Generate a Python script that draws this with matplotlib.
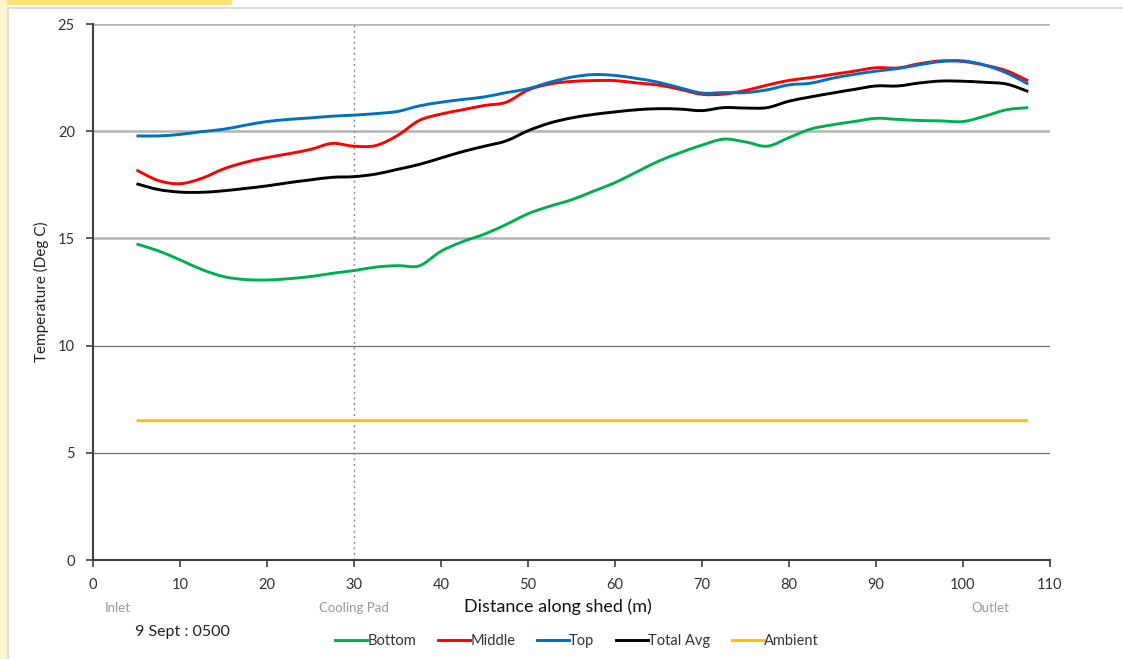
import matplotlib
matplotlib.use("Agg")
import matplotlib.pyplot as plt
from matplotlib.lines import Line2D
from matplotlib.patches import Rectangle, PathPatch
from matplotlib.path import Path

plt.rcParams["font.family"] = ["Lato", "DejaVu Sans"]

# distance along shed (m)
distance = [5, 7.5, 10, 12.5, 15, 17.5, 20, 22.5, 25, 27.5, 30, 32.5, 35, 37.5,
            40, 42.5, 45, 47.5, 50, 52.5, 55, 57.5, 60, 62.5, 65, 67.5, 70, 72.5,
            75, 77.5, 80, 82.5, 85, 87.5, 90, 92.5, 95, 97.5, 100, 102.5, 105, 107.5]

bottom = [14.74, 14.42, 14.0, 13.55, 13.22, 13.08, 13.06, 13.12, 13.22, 13.37, 13.5,
          13.66, 13.73, 13.72, 14.4, 14.85, 15.2, 15.65, 16.15, 16.5, 16.8, 17.2,
          17.6, 18.1, 18.6, 19.0, 19.35, 19.63, 19.5, 19.3, 19.7, 20.1, 20.3, 20.45,
          20.6, 20.55, 20.5, 20.48, 20.45, 20.7, 21.0, 21.1]

middle = [18.19, 17.7, 17.55, 17.8, 18.24, 18.55, 18.77, 18.95, 19.15, 19.43, 19.3,
          19.33, 19.8, 20.5, 20.8, 21.0, 21.2, 21.35, 21.92, 22.2, 22.32, 22.36,
          22.36, 22.25, 22.15, 21.95, 21.72, 21.73, 21.9, 22.15, 22.37, 22.5, 22.65,
          22.8, 22.96, 22.95, 23.15, 23.28, 23.25, 23.08, 22.82, 22.35]

top = [19.78, 19.78, 19.85, 19.98, 20.09, 20.28, 20.45, 20.55, 20.62, 20.7, 20.75,
       20.82, 20.92, 21.18, 21.35, 21.48, 21.6, 21.8, 21.98, 22.28, 22.52, 22.64,
       22.6, 22.46, 22.28, 22.02, 21.78, 21.8, 21.8, 21.93, 22.16, 22.24, 22.47,
       22.65, 22.8, 22.92, 23.1, 23.25, 23.28, 23.08, 22.72, 22.2]

total_avg = [17.55, 17.28, 17.16, 17.15, 17.22, 17.33, 17.45, 17.6, 17.73, 17.85,
             17.88, 18.0, 18.22, 18.45, 18.75, 19.05, 19.3, 19.55, 20.02, 20.38,
             20.62, 20.78, 20.9, 21.0, 21.05, 21.03, 20.96, 21.1, 21.08, 21.1, 21.4,
             21.6, 21.78, 21.95, 22.11, 22.11, 22.25, 22.34, 22.33, 22.28, 22.2, 21.85]

ambient = [6.5] * len(distance)

series = [("Bottom", bottom, "#00b050"), ("Middle", middle, "#ff0000"),
          ("Top", top, "#0070c0"), ("Total Avg", total_avg, "#000000"),
          ("Ambient", ambient, "#ffc000")]


def smooth_path(xs, ys):
    """Excel-style smoothed line: cubic bezier through every data point"""
    pts = list(zip(xs, ys))
    verts = [pts[0]]
    codes = [Path.MOVETO]
    n = len(pts)
    for i in range(n - 1):
        p0 = pts[max(i - 1, 0)]
        p1 = pts[i]
        p2 = pts[i + 1]
        p3 = pts[min(i + 2, n - 1)]
        c1 = (p1[0] + (p2[0] - p0[0]) / 6, p1[1] + (p2[1] - p0[1]) / 6)
        c2 = (p2[0] - (p3[0] - p1[0]) / 6, p2[1] - (p3[1] - p1[1]) / 6)
        verts += [c1, c2, p2]
        codes += [Path.CURVE4] * 3
    return Path(verts, codes)


fig = plt.figure(figsize=(11.23, 6.59), dpi=100)
ax = fig.add_axes([93 / 1123, 1 - 560 / 659, (1050 - 93) / 1123, (560 - 24) / 659])

# page decoration: frame and yellow highlight
fig.add_artist(Rectangle((0, 1 - 5 / 659), 232 / 1123, 5 / 659, transform=fig.transFigure,
                         color="#ffe270", lw=0))
fig.add_artist(Rectangle((0, 0), 7 / 1123, 1, transform=fig.transFigure,
                         color="#fff6d0", lw=0))
fig.add_artist(Line2D([8 / 1123, 8 / 1123], [0, 1 - 8 / 659], transform=fig.transFigure,
                      color="#dddddd", lw=1.5))
fig.add_artist(Line2D([8 / 1123, 1], [1 - 8 / 659, 1 - 8 / 659], transform=fig.transFigure,
                      color="#dddddd", lw=1.5))

handles = []
for name, vals, col in series:
    ax.add_patch(PathPatch(smooth_path(distance, vals), fill=False, edgecolor=col,
                           lw=2.1, capstyle="butt", zorder=3))
    handles.append(Line2D([], [], color=col, lw=2.1, label=name))

ax.axvline(30, color="#888888", lw=1, ls=(0, (1.5, 2.5)), zorder=1)

ax.set_xlim(0, 110)
ax.set_ylim(0, 25)
ax.set_xticks(range(0, 111, 10))
ax.set_yticks(range(0, 26, 5))
ax.tick_params(axis="both", direction="out", length=5, width=1.2, color="#404040",
               labelsize=10.5, labelcolor="#333333", pad=8)

for y in [5, 10]:
    ax.axhline(y, color="#6f6f6f", lw=0.9, zorder=0)
for y in [15, 20, 25]:
    ax.axhline(y, color="#b4b4b4", lw=1.8, zorder=0)

for s in ["top", "right"]:
    ax.spines[s].set_visible(False)
for s in ["left", "bottom"]:
    ax.spines[s].set_color("#404040")
    ax.spines[s].set_linewidth(1.5)

ax.set_ylabel("Temperature (Deg C)", fontsize=11, color="#222222", labelpad=6)
ax.text(53.4, -2.2, "Distance along shed (m)", ha="center", va="center",
        fontsize=13, color="#111111")

for xpos, lbl in [(2.9, "Inlet"), (30, "Cooling Pad"), (103.2, "Outlet")]:
    ax.text(xpos, -2.25, lbl, ha="center", va="center", fontsize=9.5, color="#999999")
ax.text(10.3, -3.35, "9 Sept : 0500", ha="center", va="center", fontsize=11.5,
        color="#222222")

leg = ax.legend(handles=handles, loc="center", bbox_to_anchor=(0.506, -0.152), ncol=5,
                frameon=False, fontsize=10.5, handlelength=2.2, handletextpad=0.0,
                columnspacing=1.5)
for t in leg.get_texts():
    t.set_color("#333333")

fig.savefig("out.png", dpi=100)
